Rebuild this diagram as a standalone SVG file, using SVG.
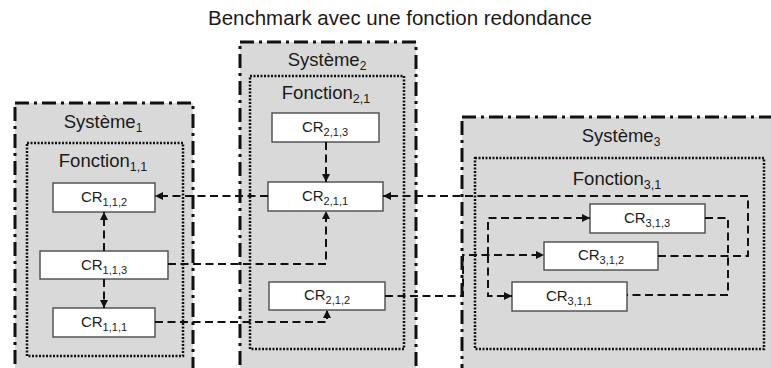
<svg xmlns="http://www.w3.org/2000/svg" width="771" height="368" viewBox="0 0 771 368">
<defs>
<style>
text{font-family:"Liberation Sans",Arial,sans-serif;fill:#1a1a1a}
.sys{fill:#d9d9d9;stroke:#111;stroke-width:3;stroke-dasharray:14 5 3 5}
.fon{fill:#d9d9d9;stroke:#111;stroke-width:2.5;stroke-dasharray:2 1.5}
.cr{fill:#fff;stroke:#555;stroke-width:1.5}
.crt{font-size:15px}
.lbl{font-size:18.5px}
.c{fill:none;stroke:#111;stroke-width:2;stroke-dasharray:8 4.5}
</style>
<marker id="ah" viewBox="0 0 10 10" refX="10" refY="5" markerWidth="8" markerHeight="8" markerUnits="userSpaceOnUse" orient="auto">
<path d="M0,0 L10,5 L0,10 z" fill="#111"/>
</marker>
</defs>
<rect width="771" height="368" fill="#fff"/>
<text x="400" y="25" font-size="20.5px" text-anchor="middle">Benchmark avec une fonction redondance</text>

<g id="systeme1">
<rect class="sys" x="15" y="103" width="178" height="290"/>
<text class="lbl" x="103" y="128" text-anchor="middle">Système<tspan dy="4" font-size="12px">1</tspan></text>
</g>
<g id="systeme2">
<rect class="sys" x="240" y="42" width="176" height="350"/>
<text class="lbl" x="327" y="66" text-anchor="middle">Système<tspan dy="4" font-size="12px">2</tspan></text>
</g>
<g id="systeme3">
<rect class="sys" x="462" y="117" width="340" height="290"/>
<text class="lbl" x="621" y="142" text-anchor="middle">Système<tspan dy="4" font-size="12px">3</tspan></text>
</g>

<g id="fonction11">
<rect class="fon" x="27" y="143" width="156" height="213"/>
<text class="lbl" x="103" y="167" text-anchor="middle">Fonction<tspan dy="4" font-size="12.5px">1,1</tspan></text>
</g>
<g id="fonction21">
<rect class="fon" x="250" y="76" width="154" height="273"/>
<text class="lbl" x="326" y="99" text-anchor="middle">Fonction<tspan dy="4" font-size="12.5px">2,1</tspan></text>
</g>
<g id="fonction31">
<rect class="fon" x="475" y="158" width="289" height="191"/>
<text class="lbl" x="617" y="185" text-anchor="middle">Fonction<tspan dy="4" font-size="12.5px">3,1</tspan></text>
</g>

<g id="cr112"><rect class="cr" x="53" y="183" width="102" height="29"/><text class="crt" x="104" y="202" text-anchor="middle">CR<tspan dy="4" font-size="11px">1,1,2</tspan></text></g>
<g id="cr113"><rect class="cr" x="40" y="251" width="128" height="28"/><text class="crt" x="104" y="270" text-anchor="middle">CR<tspan dy="4" font-size="11px">1,1,3</tspan></text></g>
<g id="cr111"><rect class="cr" x="53" y="308" width="102" height="29"/><text class="crt" x="104" y="327" text-anchor="middle">CR<tspan dy="4" font-size="11px">1,1,1</tspan></text></g>
<g id="cr213"><rect class="cr" x="272" y="113" width="107" height="29"/><text class="crt" x="325" y="132" text-anchor="middle">CR<tspan dy="4" font-size="11px">2,1,3</tspan></text></g>
<g id="cr211"><rect class="cr" x="268" y="182" width="115" height="29"/><text class="crt" x="325" y="201" text-anchor="middle">CR<tspan dy="4" font-size="11px">2,1,1</tspan></text></g>
<g id="cr212"><rect class="cr" x="269" y="282" width="116" height="28"/><text class="crt" x="327" y="300" text-anchor="middle">CR<tspan dy="4" font-size="11px">2,1,2</tspan></text></g>
<g id="cr313"><rect class="cr" x="590" y="204" width="115" height="29"/><text class="crt" x="647" y="223" text-anchor="middle">CR<tspan dy="4" font-size="11px">3,1,3</tspan></text></g>
<g id="cr312"><rect class="cr" x="544" y="242" width="114" height="28"/><text class="crt" x="601" y="260" text-anchor="middle">CR<tspan dy="4" font-size="11px">3,1,2</tspan></text></g>
<g id="cr311"><rect class="cr" x="512" y="282" width="115" height="29"/><text class="crt" x="569" y="301" text-anchor="middle">CR<tspan dy="4" font-size="11px">3,1,1</tspan></text></g>

<g id="connectors">
<path class="c" d="M104,251 L104,212" marker-end="url(#ah)"/>
<path class="c" d="M104,279 L104,308" marker-end="url(#ah)"/>
<path class="c" d="M326,142 L326,182" marker-end="url(#ah)"/>
<path class="c" d="M268,196 L155,196" marker-end="url(#ah)"/>
<path class="c" d="M658,256 L748,256 L748,196 L383,196" marker-end="url(#ah)"/>
<path class="c" d="M168,264 L326,264 L326,211" marker-end="url(#ah)"/>
<path class="c" d="M155,322 L327,322 L327,310" marker-end="url(#ah)"/>
<path class="c" d="M385,296 L463,296 L463,255 L544,255" marker-end="url(#ah)"/>
<path class="c" d="M488,255 L488,218 L590,218" marker-end="url(#ah)"/>
<path class="c" d="M488,255 L488,296 L512,296" marker-end="url(#ah)"/>
<path class="c" d="M705,218 L728,218 L728,295 L627,295"/>
</g>
</svg>
